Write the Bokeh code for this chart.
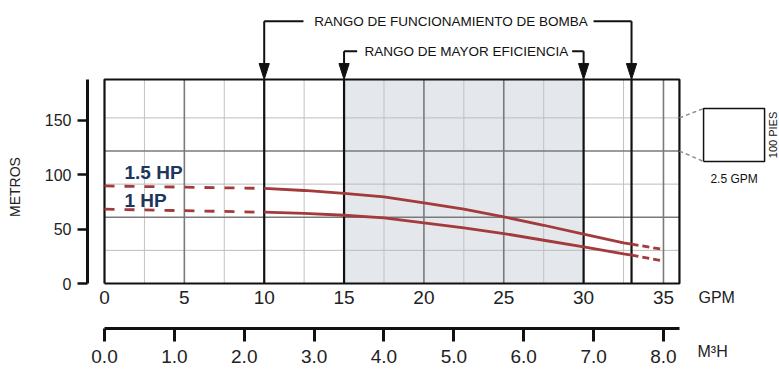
import math
from bokeh.plotting import figure
from bokeh.models import Range1d, LinearAxis, FixedTicker, PrintfTickFormatter
from bokeh.core.properties import value
from bokeh.embed import file_html
from bokeh.resources import INLINE

# ---------------- data ----------------
gpm_ticks = [0, 5, 10, 15, 20, 25, 30, 35]
m3h_ticks = [0, 1, 2, 3, 4, 5, 6, 7, 8]
metros_ticks = [0, 50, 100, 150]

# grid (GPM every 2.5, head every 100 ft)
grid_light_x = [2.5, 7.5, 12.5, 17.5, 22.5, 27.5, 32.5]
grid_dark_x = [5, 20, 25, 35]
grid_pies_light = [100, 300, 500]
grid_pies_dark = [200, 400]

rango_funcionamiento = [10, 33]
rango_eficiencia = [15, 30]

# pump curves (GPM, metros)
hp15_x = [10, 12.5, 15, 17.5, 20, 22.5, 25, 27.5, 30, 32.5, 33]
hp15_y = [87.5, 85.6, 83.0, 79.7, 74.2, 68.4, 61.3, 53.6, 45.4, 37.4, 36.2]
hp15_dash_a_x = [0, 10]
hp15_dash_a_y = [89.8, 87.5]
hp15_dash_b_x = [33, 35]
hp15_dash_b_y = [36.2, 31.3]

hp1_x = [10, 12.5, 15, 17.5, 20, 22.5, 25, 27.5, 30, 32.5, 33]
hp1_y = [65.6, 64.5, 62.8, 60.3, 55.8, 51.1, 46.0, 39.8, 33.6, 27.3, 26.2]
hp1_dash_a_x = [0, 10]
hp1_dash_a_y = [68.4, 65.6]
hp1_dash_b_x = [33, 35]
hp1_dash_b_y = [26.2, 20.6]

GPM_MAX = 36
M_TOP = 187.7
FT = 0.3048
M3H_PER_GPM = 8 / 35

FONT = "Liberation Sans"
RED = "#a33a3c"
NAVY = "#1c3660"
INK = "#111111"
TXT = "#222222"

X0, X1 = -1.0645, 42.265
Y0, Y1 = -82.8, 260.4
p = figure(width=779, height=373, x_range=Range1d(X0, X1), y_range=Range1d(Y0, Y1),
           output_backend="svg", toolbar_location=None,
           min_border_left=87, min_border_right=0, min_border_top=0, min_border_bottom=0)
p.outline_line_color = None
p.xgrid.visible = False
p.ygrid.visible = False

# shaded efficiency region
p.quad(left=[rango_eficiencia[0]], right=[rango_eficiencia[1]], bottom=[0], top=[M_TOP],
       fill_color="#e4e7eb", line_color=None)

# grid
p.segment(x0=grid_light_x, x1=grid_light_x, y0=[0] * len(grid_light_x), y1=[M_TOP] * len(grid_light_x),
          line_color="#c2c2c2", line_width=1)
hl = [v * FT for v in grid_pies_light]
p.segment(x0=[0] * len(hl), x1=[GPM_MAX] * len(hl), y0=hl, y1=hl, line_color="#bdbdbd", line_width=1)
hd = [v * FT for v in grid_pies_dark]
p.segment(x0=[0] * len(hd), x1=[GPM_MAX] * len(hd), y0=hd, y1=hd, line_color="#7a7a7a", line_width=1.6)
p.segment(x0=grid_dark_x, x1=grid_dark_x, y0=[0] * len(grid_dark_x), y1=[M_TOP] * len(grid_dark_x),
          line_color="#7a7a7a", line_width=1.6)

marks = rango_funcionamiento + rango_eficiencia
p.segment(x0=marks, x1=marks, y0=[0] * 4, y1=[M_TOP] * 4, line_color=INK, line_width=2.2)

# border
p.line(x=[0, GPM_MAX, GPM_MAX, 0, 0], y=[0, 0, M_TOP, M_TOP, 0], line_color=INK, line_width=2.2)

# curves
p.line(hp15_x, hp15_y, line_color=RED, line_width=2.8)
p.line(hp1_x, hp1_y, line_color=RED, line_width=2.8)
for xs, ys in [(hp15_dash_a_x, hp15_dash_a_y), (hp1_dash_a_x, hp1_dash_a_y)]:
    p.line(xs, ys, line_color=RED, line_width=2.8, line_dash="10 10")
for xs, ys in [(hp15_dash_b_x, hp15_dash_b_y), (hp1_dash_b_x, hp1_dash_b_y)]:
    p.line(xs, ys, line_color=RED, line_width=2.8, line_dash="7 4")

p.text(x=[1.25, 1.25], y=[102.4, 76.8], text=["1.5 HP", "1 HP"], text_font=value(FONT),
       text_font_style="bold", text_font_size="19px", text_color=NAVY,
       text_align="left", text_baseline="middle")

# range brackets with arrows
Y_B1, Y_B2 = 241.4, 213.8
TRI_H = 14.7
TRI_W = 0.32
a, b = rango_funcionamiento
c, d = rango_eficiencia
for xs, ys in [([a, a], [M_TOP + TRI_H, Y_B1]), ([b, b], [M_TOP + TRI_H, Y_B1]),
               ([a, a + 2.46], [Y_B1, Y_B1]), ([b - 2.38, b], [Y_B1, Y_B1]),
               ([c, c], [M_TOP + TRI_H, Y_B2]), ([d, d], [M_TOP + TRI_H, Y_B2]),
               ([c, c + 0.82], [Y_B2, Y_B2]), ([d - 0.72, d], [Y_B2, Y_B2])]:
    p.line(x=xs, y=ys, line_color=INK, line_width=2)
p.patches(xs=[[m - TRI_W, m + TRI_W, m] for m in marks],
          ys=[[M_TOP + TRI_H, M_TOP + TRI_H, M_TOP] for m in marks],
          fill_color=INK, line_color=INK)
p.text(x=[(a + b) / 2 + 0.2], y=[Y_B1], text=["RANGO DE FUNCIONAMIENTO DE BOMBA"],
       text_font=value(FONT), text_font_size="13.5px", text_color=INK,
       text_align="center", text_baseline="middle")
p.text(x=[(c + d) / 2 + 0.16], y=[Y_B2], text=["RANGO DE MAYOR EFICIENCIA"],
       text_font=value(FONT), text_font_size="13.5px", text_color=INK,
       text_align="center", text_baseline="middle")

# scale box legend
BX0, BX1, BY0, BY1 = 37.51, 41.33, 112.3, 161.0
p.line(x=[BX0, BX1, BX1, BX0, BX0], y=[BY0, BY0, BY1, BY1, BY0], line_color=INK, line_width=1.5)
p.segment(x0=[GPM_MAX, GPM_MAX], y0=[grid_pies_light[2] * FT, grid_pies_dark[1] * FT],
          x1=[BX0, BX0], y1=[BY1, BY0], line_color="#8a8a8a", line_width=1.5, line_dash="4 3")
p.text(x=[(BX0 + BX1) / 2], y=[96.5], text=["2.5 GPM"], text_font=value(FONT),
       text_font_size="12px", text_color=INK, text_align="center", text_baseline="middle")
p.text(x=[41.5], y=[(BY0 + BY1) / 2], text=["100 PIES"], text_font=value(FONT), angle=math.pi / 2,
       text_font_size="11px", text_color=INK, text_align="center", text_baseline="top")

# unit labels
p.text(x=[37.19, 37.13], y=[-12.6, -62.6], text=["GPM", "M³H"], text_font=value(FONT),
       text_font_size="16px", text_color=TXT, text_align="left", text_baseline="middle")

# y axis
ya = p.yaxis[0]
ya.ticker = FixedTicker(ticks=metros_ticks)
ya.bounds = (0, M_TOP)
ya.axis_line_width = 3
ya.axis_line_color = INK
ya.major_tick_line_width = 2.5
ya.major_tick_line_color = INK
ya.major_tick_out = 10
ya.major_tick_in = 0
ya.minor_tick_line_color = None
ya.major_label_standoff = 6
ya.major_label_text_font = FONT
ya.major_label_text_font_size = "16px"
ya.major_label_text_color = TXT
ya.axis_label = "METROS"
ya.axis_label_text_font = FONT
ya.axis_label_text_font_size = "14px"
ya.axis_label_text_font_style = "normal"
ya.axis_label_text_color = TXT
ya.axis_label_standoff = 19

# GPM labels (axis fixed at y = 0)
xa = p.xaxis[0]
xa.fixed_location = 0
xa.ticker = FixedTicker(ticks=gpm_ticks)
xa.axis_line_color = None
xa.major_tick_line_color = None
xa.minor_tick_line_color = None
xa.major_tick_out = 0
xa.major_tick_in = 0
xa.major_label_standoff = 7
xa.major_label_text_font = FONT
xa.major_label_text_font_size = "19px"
xa.major_label_text_color = TXT

# M3H axis
p.extra_x_ranges = {"m3h": Range1d(X0 * M3H_PER_GPM, X1 * M3H_PER_GPM)}
ma = LinearAxis(x_range_name="m3h", ticker=FixedTicker(ticks=m3h_ticks), fixed_location=-41.4,
                formatter=PrintfTickFormatter(format="%.1f"), bounds=(0, GPM_MAX * M3H_PER_GPM))
ma.axis_line_width = 3
ma.axis_line_color = INK
ma.major_tick_line_width = 3
ma.major_tick_line_color = INK
ma.major_tick_out = 13
ma.major_tick_in = 0
ma.minor_tick_line_color = None
ma.major_label_standoff = 8
ma.major_label_text_font = FONT
ma.major_label_text_font_size = "19px"
ma.major_label_text_color = TXT
p.add_layout(ma, "below")

open("out.html", "w").write(file_html(p, INLINE))
